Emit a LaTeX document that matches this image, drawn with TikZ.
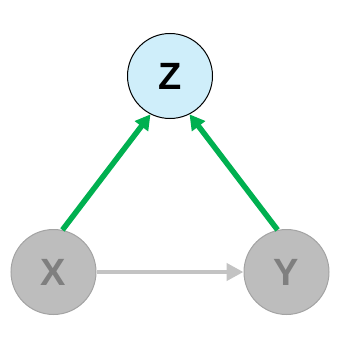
\documentclass[tikz,border=0pt]{standalone}
\usepackage{fontspec}
\setmainfont{Liberation Sans}
\usetikzlibrary{arrows.meta}
\definecolor{zfill}{HTML}{CFEEFA}
\definecolor{gfill}{HTML}{BDBDBD}
\definecolor{gdraw}{HTML}{A3A3A3}
\definecolor{gtext}{HTML}{7F7F7F}
\definecolor{grn}{HTML}{00B050}
\definecolor{garr}{HTML}{C3C3C3}
\tikzset{
  varz/.style={circle, minimum size=85pt, inner sep=0pt, fill=zfill, draw=black, line width=1pt, font=\fontsize{38}{38}\selectfont\bfseries, text=black},
  varg/.style={circle, minimum size=85pt, inner sep=0pt, fill=gfill, draw=gdraw, line width=1pt, font=\fontsize{38}{38}\selectfont\bfseries, text=gtext},
  garrow/.style={draw=grn, line width=5.5pt, -{Triangle[length=15pt,width=16pt]}},
  grarrow/.style={draw=garr, line width=4.5pt, -{Triangle[length=17pt,width=17pt]}}
}
\begin{document}
\begin{tikzpicture}[x=1pt,y=-1pt]
\useasboundingbox (0,0) rectangle (340,340);
\node[varz] (z) at (170,76) {Z};
\node[varg] (x) at (53.5,272) {X};
\node[varg] (y) at (286.5,272) {Y};
\draw[garrow] (x.78) -- (z.243);
\draw[garrow] (y.102) -- (z.297);
\draw[grarrow] (x) -- (y);
\end{tikzpicture}
\end{document}
